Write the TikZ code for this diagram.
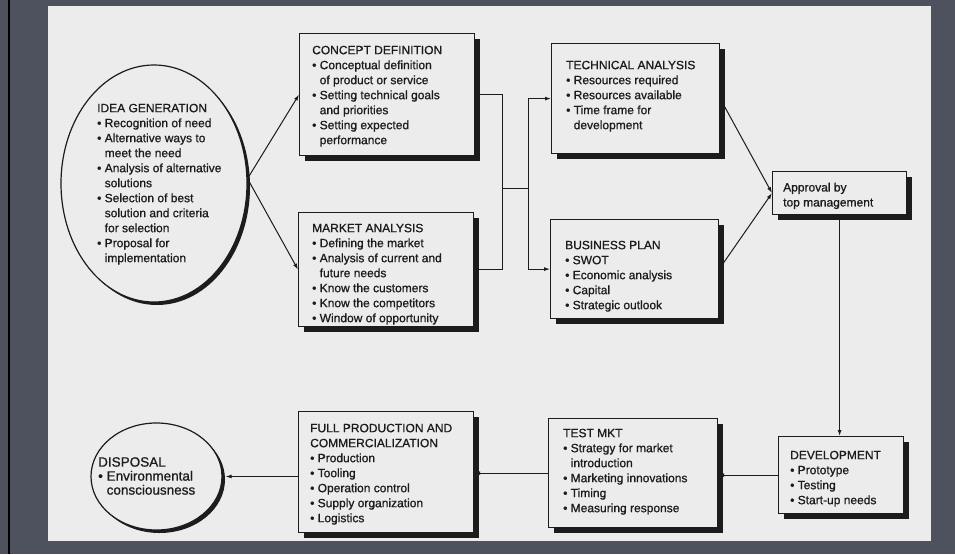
\documentclass[tikz,border=0pt]{standalone}
\usepackage{fontspec}
\setmainfont{Liberation Sans}[BoldFont={Liberation Sans}, BoldFeatures={FakeBold=0.9}]
\usetikzlibrary{shadows,arrows.meta,calc,shapes.geometric}
\definecolor{slate}{RGB}{78,82,94}
\definecolor{paper}{RGB}{236,236,236}
\definecolor{ink}{RGB}{28,28,28}
\newcommand{\bitem}{\textbullet\ }
\newcommand{\bcont}{\phantom{\textbullet\ }}
\begin{document}
\begin{tikzpicture}[x=1pt,y=-1pt,
  box/.style={draw=ink, line width=1.2pt, fill=paper, rectangle, inner sep=0pt, anchor=north west,
    drop shadow={shadow xshift=5pt, shadow yshift=-5pt, fill=ink, opacity=1}},
  oval/.style={draw=ink, line width=1.2pt, fill=paper, ellipse, inner sep=0pt,
    drop shadow={shadow xshift=3pt, shadow yshift=-3pt, fill=ink, opacity=1}},
  txt/.style={anchor=north west, inner sep=0pt, align=left, font=\fontsize{12}{15}\selectfont\bfseries, text=ink},
  conn/.style={draw=ink, line width=1pt},
  arr/.style={conn, -{Latex[length=6pt,width=4pt]}},
]
% background and page
\fill[slate] (0,0) rectangle (955,554);
\useasboundingbox (0,0) rectangle (955,554);
\draw[black, line width=2.5pt] (9,0) -- (9,554);
\fill[paper] (48,6) rectangle (931,541);

% ellipses
\node[oval, minimum width=186pt, minimum height=237pt] (idea) at (154,183.5) {};
\node[oval, minimum width=131pt, minimum height=107pt] (disposal) at (156.5,476.5) {};

% boxes
\node[box, minimum width=175pt, minimum height=122pt] (concept) at (299,33) {};
\node[box, minimum width=175pt, minimum height=114pt] (market) at (298,212) {};
\node[box, minimum width=168pt, minimum height=110pt] (technical) at (551,43) {};
\node[box, minimum width=168pt, minimum height=99pt] (business) at (550,219) {};
\node[box, minimum width=134pt, minimum height=43pt] (approval) at (772,171) {};
\node[box, minimum width=125pt, minimum height=77pt] (development) at (778,436) {};
\node[box, minimum width=169pt, minimum height=109pt] (test) at (548,418) {};
\node[box, minimum width=175pt, minimum height=121pt] (full) at (298,411) {};

% texts
\node[txt] (ideaT) at (97,103.6) {IDEA GENERATION\\
\bitem Recognition of need\\
\bitem Alternative ways to\\ \bcont meet the need\\
\bitem Analysis of alternative\\ \bcont solutions\\
\bitem Selection of best\\ \bcont solution and criteria\\ \bcont for selection\\
\bitem Proposal for\\ \bcont implementation};

\node[txt] (conceptT) at (312,45.6) {CONCEPT DEFINITION\\
\bitem Conceptual definition\\ \bcont of product or service\\
\bitem Setting technical goals\\ \bcont and priorities\\
\bitem Setting expected\\ \bcont performance};

\node[txt] (marketT) at (312,223.6) {MARKET ANALYSIS\\
\bitem Defining the market\\
\bitem Analysis of current and\\ \bcont future needs\\
\bitem Know the customers\\
\bitem Know the competitors\\
\bitem Window of opportunity};

\node[txt] (technicalT) at (566,60.6) {TECHNICAL ANALYSIS\\
\bitem Resources required\\
\bitem Resources available\\
\bitem Time frame for\\ \bcont development};

\node[txt] (businessT) at (565,240.6) {BUSINESS PLAN\\
\bitem SWOT\\
\bitem Economic analysis\\
\bitem Capital\\
\bitem Strategic outlook};

\node[txt] (approvalT) at (783,182.6) {Approval by\\ top management};

\node[txt] (developmentT) at (790,450.6) {DEVELOPMENT\\
\bitem Prototype\\
\bitem Testing\\
\bitem Start-up needs};

\node[txt] (testT) at (563,428.6) {TEST MKT\\
\bitem Strategy for market\\ \bcont introduction\\
\bitem Marketing innovations\\
\bitem Timing\\
\bitem Measuring response};

\node[txt] (fullT) at (310,423.6) {FULL PRODUCTION AND\\
COMMERCIALIZATION\\
\bitem Production\\
\bitem Tooling\\
\bitem Operation control\\
\bitem Supply organization\\
\bitem Logistics};

\node[txt, font=\fontsize{13.5}{14}\selectfont\bfseries] (disposalT) at (98,457) {DISPOSAL\\
\bitem Environmental\\ \bcont consciousness};

% connectors
\draw[arr] (idea.3) -- (concept.west);
\draw[arr] (idea.3) -- (market.west);
\draw[conn] (concept.east) -- ++(27,0) coordinate (cv) |- (market.east);
\coordinate (j) at (cv |- 0,188);
\coordinate (k) at (528,188);
\draw[conn] (j) -- (k);
\draw[arr] (k) |- (technical.west);
\draw[arr] (k) |- (business.west);
\draw[arr] (technical.east) -- (approval.west);
\draw[arr] (business.east) -- (approval.west);
\draw[arr] (approval.south) -- (approval.south |- development.north);
\draw[arr] (development.west) -- (development.west -| test.east);
\draw[arr] (test.west) -- (test.west -| full.east);
\draw[arr] (disposal.east -| full.west) -- ([xshift=3pt]disposal.east);
\end{tikzpicture}
\end{document}
